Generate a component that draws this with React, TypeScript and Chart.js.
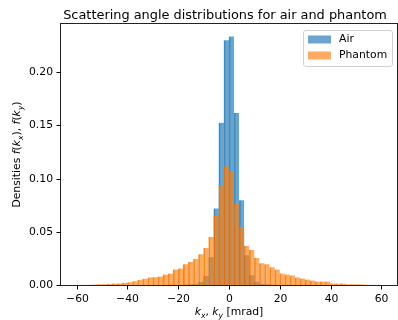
import React, { useEffect, useRef } from "react";
import { Chart, registerables } from "chart.js";

Chart.register(...registerables);

const TITLE = "Scattering angle distributions for air and phantom";
const SERIES_NAMES = ["Air", "Phantom"];

// bin centres (bins are 2 mrad wide, edges on even numbers from -60 to 60)
const BIN_CENTERS = [
  -59, -57, -55, -53, -51, -49, -47, -45, -43, -41,
  -39, -37, -35, -33, -31, -29, -27, -25, -23, -21,
  -19, -17, -15, -13, -11, -9, -7, -5, -3, -1,
  1, 3, 5, 7, 9, 11, 13, 15, 17, 19,
  21, 23, 25, 27, 29, 31, 33, 35, 37, 39,
  41, 43, 45, 47, 49, 51, 53, 55, 57, 59,
];

const AIR = [
  0.0001, 0.0001, 0.0001, 0.0001, 0.0001, 0.0001, 0.0001, 0.0001, 0.0001, 0.0001,
  0.0001, 0.0001, 0.0001, 0.0001, 0.0001, 0.0001, 0.0001, 0.0002, 0.0002, 0.0002,
  0.0003, 0.0004, 0.0006, 0.0010, 0.0028, 0.0085, 0.0264, 0.0720, 0.1525, 0.2300,
  0.2336, 0.1616, 0.0796, 0.0280, 0.0092, 0.0030, 0.0010, 0.0006, 0.0004, 0.0003,
  0.0002, 0.0002, 0.0002, 0.0001, 0.0001, 0.0001, 0.0001, 0.0001, 0.0001, 0.0001,
  0.0001, 0.0001, 0.0001, 0.0001, 0.0001, 0.0001, 0.0001, 0.0001, 0.0001, 0.0001,
];

const PHANTOM = [
  0.0002, 0.0002, 0.0003, 0.0004, 0.0006, 0.0008, 0.0010, 0.0014, 0.0015, 0.0022,
  0.0026, 0.0036, 0.0050, 0.0058, 0.0071, 0.0072, 0.0080, 0.0099, 0.0108, 0.0146,
  0.0156, 0.0194, 0.0218, 0.0244, 0.0290, 0.0347, 0.0452, 0.0650, 0.0937, 0.1116,
  0.1070, 0.0767, 0.0545, 0.0368, 0.0328, 0.0254, 0.0204, 0.0196, 0.0166, 0.0146,
  0.0108, 0.0099, 0.0090, 0.0071, 0.0061, 0.0052, 0.0042, 0.0033, 0.0034, 0.0032,
  0.0015, 0.0014, 0.0013, 0.0008, 0.0008, 0.0007, 0.0004, 0.0003, 0.0002, 0.0002,
];

const X_TICKS = [-60, -40, -20, 0, 20, 40, 60];
const Y_TICKS = [0, 0.05, 0.1, 0.15, 0.2];

const AIR_FILL = "rgba(31,119,180,0.66)";
const AIR_EDGE = "rgba(31,119,180,0.8)";
const PH_FILL = "rgba(255,127,14,0.66)";
const PH_EDGE = "rgba(230,110,5,0.8)";
const FONT = "'DejaVu Sans', 'Liberation Sans', sans-serif";
const FS = 10.8;
const TICK_LEN = 4;

const fmtX = (v: number) => (v < 0 ? "\u2212" + Math.abs(v) : String(v));
const fmtY = (v: number) => v.toFixed(2);

type Part = { t: string; it?: boolean; sub?: boolean };

function drawRich(ctx: CanvasRenderingContext2D, parts: Part[], cx: number, cy: number, size: number) {
  const fontFor = (p: Part) =>
    `${p.it ? "italic " : ""}${p.sub ? (size * 0.7).toFixed(1) : size}px ${FONT}`;
  let total = 0;
  const widths = parts.map((p) => {
    ctx.font = fontFor(p);
    const w = ctx.measureText(p.t).width;
    total += w;
    return w;
  });
  let x = cx - total / 2;
  ctx.textAlign = "left";
  ctx.textBaseline = "alphabetic";
  parts.forEach((p, i) => {
    ctx.font = fontFor(p);
    ctx.fillText(p.t, x, cy + (p.sub ? size * 0.3 : 0));
    x += widths[i];
  });
}

const decorPlugin = {
  id: "decor",
  afterDraw(chart: any) {
    const ctx: CanvasRenderingContext2D = chart.ctx;
    const a = chart.chartArea;
    const xs = chart.scales.x;
    const ys = chart.scales.y;
    ctx.save();
    // frame
    ctx.strokeStyle = "#222";
    ctx.lineWidth = 1;
    const L = Math.round(a.left) - 0.5;
    const T = Math.round(a.top) - 0.5;
    const R = Math.round(a.right) + 0.5;
    const B = Math.round(a.bottom) + 0.5;
    ctx.strokeRect(L, T, R - L, B - T);

    // tick marks + tick labels
    ctx.strokeStyle = "#000";
    ctx.fillStyle = "#000";
    ctx.lineWidth = 1;
    ctx.font = `${FS}px ${FONT}`;
    X_TICKS.forEach((v) => {
      const px = Math.round(xs.getPixelForValue(v)) + 0.5;
      ctx.beginPath();
      ctx.moveTo(px, B);
      ctx.lineTo(px, B + TICK_LEN);
      ctx.stroke();
      ctx.textAlign = "center";
      ctx.textBaseline = "alphabetic";
      ctx.fillText(fmtX(v), px, 302);
    });
    Y_TICKS.forEach((v) => {
      const py = Math.round(ys.getPixelForValue(v)) + 0.5;
      ctx.beginPath();
      ctx.moveTo(L, py);
      ctx.lineTo(L - TICK_LEN, py);
      ctx.stroke();
      ctx.textAlign = "right";
      ctx.textBaseline = "middle";
      ctx.fillText(fmtY(v), L - TICK_LEN - 3.5, py);
    });

    // title
    ctx.font = `12.9px ${FONT}`;
    ctx.textAlign = "center";
    ctx.textBaseline = "alphabetic";
    ctx.fillText(TITLE, 225, 18.5);

    // x axis title
    drawRich(
      ctx,
      [
        { t: "k", it: true },
        { t: "x", it: true, sub: true },
        { t: ", " },
        { t: "k", it: true },
        { t: "y", it: true, sub: true },
        { t: " [mrad]" },
      ],
      (a.left + a.right) / 2,
      314.5,
      FS
    );

    // y axis title
    ctx.save();
    ctx.translate(20, (a.top + a.bottom) / 2);
    ctx.rotate(-Math.PI / 2);
    drawRich(
      ctx,
      [
        { t: "Densities " },
        { t: "f", it: true },
        { t: "(" },
        { t: "k", it: true },
        { t: "x", it: true, sub: true },
        { t: "), " },
        { t: "f", it: true },
        { t: "(" },
        { t: "k", it: true },
        { t: "y", it: true, sub: true },
        { t: ")" },
      ],
      0,
      0,
      FS
    );
    ctx.restore();

    // legend
    const lx = 303.5, ly = 30.5, lw = 89, lh = 36, r = 2.5;
    ctx.fillStyle = "rgba(255,255,255,0.8)";
    ctx.strokeStyle = "#d0d0d0";
    ctx.lineWidth = 1;
    ctx.beginPath();
    ctx.moveTo(lx + r, ly);
    ctx.lineTo(lx + lw - r, ly);
    ctx.arcTo(lx + lw, ly, lx + lw, ly + r, r);
    ctx.lineTo(lx + lw, ly + lh - r);
    ctx.arcTo(lx + lw, ly + lh, lx + lw - r, ly + lh, r);
    ctx.lineTo(lx + r, ly + lh);
    ctx.arcTo(lx, ly + lh, lx, ly + lh - r, r);
    ctx.lineTo(lx, ly + r);
    ctx.arcTo(lx, ly, lx + r, ly, r);
    ctx.closePath();
    ctx.fill();
    ctx.stroke();

    const fills = [AIR_FILL, PH_FILL];
    SERIES_NAMES.forEach((name, i) => {
      const cy = 39.5 + i * 16;
      ctx.fillStyle = fills[i];
      ctx.fillRect(308, cy - 4, 23, 8);
      ctx.fillStyle = "#000";
      ctx.font = `${FS}px ${FONT}`;
      ctx.textAlign = "left";
      ctx.textBaseline = "middle";
      ctx.fillText(name, 339, cy);
    });
    ctx.restore();
  },
};

export default function App() {
  const ref = useRef<HTMLCanvasElement | null>(null);

  useEffect(() => {
    if (!ref.current) return;
    const chart = new Chart(ref.current, {
      type: "bar",
      data: {
        datasets: [
          {
            label: SERIES_NAMES[0],
            data: BIN_CENTERS.map((x, i) => ({ x, y: AIR[i] })),
            backgroundColor: AIR_FILL,
            borderColor: AIR_EDGE,
            borderWidth: { left: 1, right: 0, top: 0, bottom: 0 },
            borderSkipped: false,
            barPercentage: 1,
            categoryPercentage: 1,
            grouped: false,
            order: 2,
          },
          {
            label: SERIES_NAMES[1],
            data: BIN_CENTERS.map((x, i) => ({ x, y: PHANTOM[i] })),
            backgroundColor: PH_FILL,
            borderColor: PH_EDGE,
            borderWidth: { left: 1, right: 0, top: 0, bottom: 0 },
            borderSkipped: false,
            barPercentage: 1,
            categoryPercentage: 1,
            grouped: false,
            order: 1,
          },
        ] as any,
      },
      options: {
        responsive: false,
        animation: false,
        devicePixelRatio: 1,
        layout: { padding: { left: 0, right: 1, top: 24, bottom: 0 } },
        plugins: {
          legend: { display: false },
          title: { display: false },
          tooltip: { enabled: false },
        },
        scales: {
          x: {
            type: "linear",
            min: -66.2,
            max: 66.2,
            offset: false,
            afterFit: (s: any) => {
              s.height = 35;
            },
            afterBuildTicks: (s: any) => {
              s.ticks = X_TICKS.map((v) => ({ value: v }));
            },
            grid: { display: false },
            border: { display: false },
            ticks: { display: false },
          },
          y: {
            type: "linear",
            min: 0,
            max: 0.2453,
            afterFit: (s: any) => {
              s.width = 61;
            },
            afterBuildTicks: (s: any) => {
              s.ticks = Y_TICKS.map((v) => ({ value: v }));
            },
            grid: { display: false },
            border: { display: false },
            ticks: { display: false },
          },
        },
      } as any,
      plugins: [decorPlugin],
    });
    return () => chart.destroy();
  }, []);

  return (
    <div style={{ position: "absolute", left: 0, top: 0, width: 398, height: 320, background: "#fff" }}>
      <canvas ref={ref} width={398} height={320} style={{ display: "block", width: 398, height: 320 }} />
    </div>
  );
}
